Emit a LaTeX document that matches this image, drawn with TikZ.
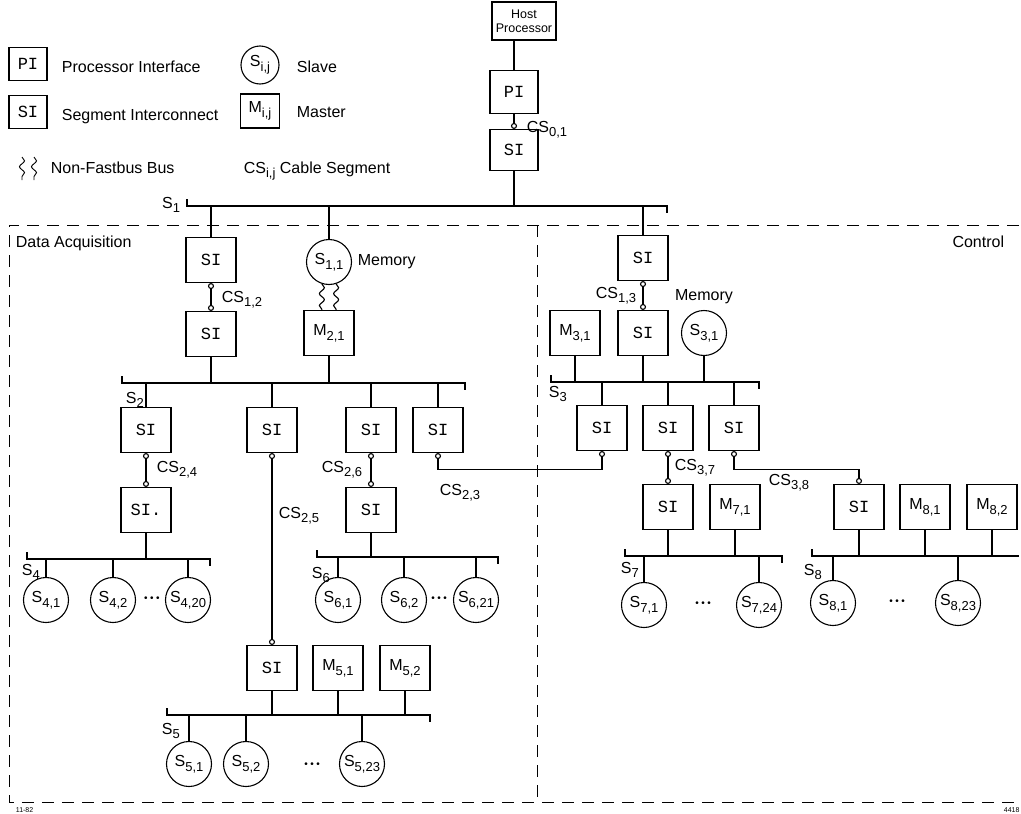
\documentclass[tikz,border=0pt]{standalone}
\usepackage{fontspec}
\setmainfont{Liberation Sans}
\setmonofont{Liberation Mono}
\usetikzlibrary{arrows.meta,decorations.pathmorphing}
\newcommand\lowidx[1]{\raisebox{-0.55ex}{\fontsize{13}{13}\selectfont #1}}
\newcommand\moredots{{\fontsize{10}{10}\selectfont\textbullet\kern2.5pt\textbullet\kern2.5pt\textbullet}}

\begin{document}
\begin{tikzpicture}[x=1pt, y=-1pt, line width=1.1pt,
    font=\fontsize{16}{19}\selectfont,
    unitbox/.style={draw, minimum width=50pt, minimum height=45pt, inner sep=0pt},
    sibox/.style={unitbox, font=\fontsize{17}{19}\selectfont\ttfamily},
    slave/.style={draw, circle, minimum size=45pt, inner sep=0pt},
    cable/.style={{Circle[open,length=6pt]}-{Circle[open,length=6pt]}},
    wavy/.style={decorate, decoration={snake, amplitude=2.5pt, segment length=12pt}},
    dasharea/.style={line width=0.9pt, dash pattern=on 12pt off 8pt}]
    \useasboundingbox (0,0) rectangle (1021,814);

    % legend
    \node[sibox, minimum width=38pt, minimum height=33pt] (lgpi) at (28,64) {PI};
    \node[anchor=base west] (lgpit) at (58,72) {Processor Interface};
    \node[sibox, minimum width=38pt, minimum height=33pt] (lgsi) at (28,112) {SI};
    \node[anchor=base west] (lgsit) at (58,120) {Segment Interconnect};
    \node[slave, minimum size=38pt] (lgs) at (260,65) {S\lowidx{i,j}};
    \node[anchor=base west] (lgst) at (293,72) {Slave};
    \node[unitbox, minimum width=39pt, minimum height=34pt] (lgm) at (260,111) {M\lowidx{i,j}};
    \node[anchor=base west] (lgmt) at (293,117) {Master};
    \draw[wavy, line width=0.9pt] (22,157) -- (22,180);
    \draw[wavy, line width=0.9pt] (34,157) -- (34,180);
    \node[anchor=base west] (lgnf) at (47,173) {Non-Fastbus Bus};
    \node[anchor=base west] (lgcs) at (240,173) {CS\lowidx{i,j} Cable Segment};

    % areas
    \draw[dasharea] (1019,225) -- (9,225) -- (9,802) -- (1019,802);
    \draw[dasharea] (537,225) -- (537,802);
    \node[anchor=base west] (daq) at (12,247) {Data Acquisition};
    \node[anchor=base east] (ctl) at (1008,247) {Control};
    \node[anchor=base west, font=\fontsize{7}{8}\selectfont] (date) at (12,812) {11-82};
    \node[anchor=base west, font=\fontsize{7}{8}\selectfont] (fig) at (1000,812) {4418};

    % segment buses
    \coordinate (bus1l) at (187,206); \coordinate (bus1r) at (667,206);
    \coordinate (bus2l) at (122,383); \coordinate (bus2r) at (465,383);
    \coordinate (bus3l) at (551,382); \coordinate (bus3r) at (759,382);
    \coordinate (bus4l) at (27,559);  \coordinate (bus4r) at (210,559);
    \coordinate (bus5l) at (167,715); \coordinate (bus5r) at (430,715);
    \coordinate (bus6l) at (317,557); \coordinate (bus6r) at (498,557);
    \coordinate (bus7l) at (625,556); \coordinate (bus7r) at (782,556);
    \coordinate (bus8l) at (812,556); \coordinate (bus8r) at (1019,556);
    \foreach \b in {1,...,7}
        \draw (bus\b l) ++(0,-7) -- (bus\b l) -- (bus\b r) -- ++(0,7);
    \draw (bus8l) ++(0,-7) -- (bus8l) -- (bus8r);
    \node[anchor=base east] (lbl1) at (184,208) {S\lowidx{1}};
    \node[anchor=base west] (lbl2) at (122,403) {S\lowidx{2}};
    \node[anchor=base west] (lbl3) at (545,397) {S\lowidx{3}};
    \node[anchor=base west] (lbl4) at (18,575) {S\lowidx{4}};
    \node[anchor=base west] (lbl5) at (158,734) {S\lowidx{5}};
    \node[anchor=base west] (lbl6) at (308,578) {S\lowidx{6}};
    \node[anchor=base west] (lbl7) at (617,573) {S\lowidx{7}};
    \node[anchor=base west] (lbl8) at (800,575) {S\lowidx{8}};

    % host
    \node[draw, minimum width=64pt, minimum height=38pt, inner sep=0pt, align=center,
        font=\fontsize{12.5}{14}\selectfont] (host) at (524,21) {Host\\Processor};
    \node[sibox, minimum width=48pt, minimum height=43pt] (pi0) at (514,92) {PI};
    \node[sibox, minimum width=48pt, minimum height=41pt] (si0) at (514,150) {SI};
    \draw (pi0.north) -- (pi0.north |- host.south);
    \draw[-{Circle[open,length=6pt]}] (pi0.south) -- (si0.north);
    \node[anchor=base west] (cs01) at (523,132) {CS\lowidx{0,1}};
    \draw (si0.south) -- (si0.south |- bus1l);

    % data acquisition
    \node[sibox] (si1a) at (211,260) {SI};
    \node[slave] (s11) at (329,262) {S\lowidx{1,1}};
    \node[anchor=west] (mem1) at (354,262) {Memory};
    \node[sibox] (si2in) at (211,334) {SI};
    \node[unitbox] (m21) at (329,333) {M\lowidx{2,1}};
    \draw (si1a.north) -- (si1a.north |- bus1l);
    \draw (s11.north) -- (s11.north |- bus1l);
    \draw[cable] (si1a.south) -- (si2in.north);
    \node[anchor=base west] (cs12) at (218,302) {CS\lowidx{1,2}};
    \draw[wavy] (s11.252) -- (s11.252 |- m21.north);
    \draw[wavy] (s11.288) -- (s11.288 |- m21.north);
    \draw (si2in.south) -- (si2in.south |- bus2l);
    \draw (m21.south) -- (m21.south |- bus2l);

    \node[sibox] (si2a) at (146,430) {SI};
    \node[sibox] (si2b) at (272,430) {SI};
    \node[sibox] (si2c) at (371,430) {SI};
    \node[sibox] (si2d) at (438,430) {SI};
    \foreach \n in {si2a,si2b,si2c,si2d}
        \draw (\n.north) -- (\n.north |- bus2l);

    \node[sibox] (si4in) at (146,510) {SI.};
    \draw[cable] (si2a.south) -- (si4in.north);
    \node[anchor=base west] (cs24) at (153,472) {CS\lowidx{2,4}};
    \draw (si4in.south) -- (si4in.south |- bus4l);
    \node[slave] (s41) at (46,600) {S\lowidx{4,1}};
    \node[slave] (s42) at (113,600) {S\lowidx{4,2}};
    \node[slave] (s420) at (188,600) {S\lowidx{4,20}};
    \node (dots4) at (152,599) {\moredots};
    \foreach \n in {s41,s42,s420}
        \draw (\n.north) -- (\n.north |- bus4l);

    \node[sibox] (si5in) at (272,668) {SI};
    \node[unitbox] (m51) at (338,668) {M\lowidx{5,1}};
    \node[unitbox] (m52) at (405,668) {M\lowidx{5,2}};
    \draw[cable] (si2b.south) -- (si5in.north);
    \node[anchor=base west] (cs25) at (275,518) {CS\lowidx{2,5}};
    \foreach \n in {si5in,m51,m52}
        \draw (\n.south) -- (\n.south |- bus5l);
    \node[slave] (s51) at (189,764) {S\lowidx{5,1}};
    \node[slave] (s52) at (246,764) {S\lowidx{5,2}};
    \node[slave] (s523) at (362,764) {S\lowidx{5,23}};
    \node (dots5) at (312,765) {\moredots};
    \foreach \n in {s51,s52,s523}
        \draw (\n.north) -- (\n.north |- bus5l);

    \node[sibox] (si6in) at (371,510) {SI};
    \draw[cable] (si2c.south) -- (si6in.north);
    \node[anchor=base east] (cs26) at (366,472) {CS\lowidx{2,6}};
    \draw (si6in.south) -- (si6in.south |- bus6l);
    \node[slave] (s61) at (338,600) {S\lowidx{6,1}};
    \node[slave] (s62) at (404,600) {S\lowidx{6,2}};
    \node[slave] (s621) at (476,600) {S\lowidx{6,21}};
    \node (dots6) at (439,599) {\moredots};
    \foreach \n in {s61,s62,s621}
        \draw (\n.north) -- (\n.north |- bus6l);

    % control
    \node[sibox] (si1c) at (643,258) {SI};
    \draw (si1c.north) -- (si1c.north |- bus1l);
    \node[unitbox] (m31) at (575,333) {M\lowidx{3,1}};
    \node[sibox] (si3in) at (643,333) {SI};
    \node[slave] (s31) at (704,333) {S\lowidx{3,1}};
    \node[anchor=south] (mem3) at (704,308) {Memory};
    \draw[cable] (si1c.south) -- (si3in.north);
    \node[anchor=base east] (cs13) at (640,298) {CS\lowidx{1,3}};
    \foreach \n in {m31,si3in,s31}
        \draw (\n.south) -- (\n.south |- bus3l);

    \node[sibox] (si3a) at (602,428) {SI};
    \node[sibox] (si3b) at (668,428) {SI};
    \node[sibox] (si3c) at (734,428) {SI};
    \foreach \n in {si3a,si3b,si3c}
        \draw (\n.north) -- (\n.north |- bus3l);
    \draw[cable] (si2d.south) -- ++(0,16) -| (si3a.south);
    \node[anchor=base west] (cs23) at (436,495) {CS\lowidx{2,3}};

    \node[sibox] (si7in) at (668,507) {SI};
    \node[unitbox] (m71) at (735,507) {M\lowidx{7,1}};
    \draw[cable] (si3b.south) -- (si7in.north);
    \node[anchor=base west] (cs37) at (671,470) {CS\lowidx{3,7}};
    \foreach \n in {si7in,m71}
        \draw (\n.south) -- (\n.south |- bus7l);
    \node[slave] (s71) at (644,605) {S\lowidx{7,1}};
    \node[slave] (s724) at (759,605) {S\lowidx{7,24}};
    \node (dots7) at (703,604) {\moredots};
    \foreach \n in {s71,s724}
        \draw (\n.north) -- (\n.north |- bus7l);

    \node[sibox] (si8in) at (859,507) {SI};
    \node[unitbox] (m81) at (925,507) {M\lowidx{8,1}};
    \node[unitbox] (m82) at (992,507) {M\lowidx{8,2}};
    \draw[cable] (si3c.south) -- ++(0,18) -| (si8in.north);
    \node[anchor=base west] (cs38) at (765,485) {CS\lowidx{3,8}};
    \foreach \n in {si8in,m81,m82}
        \draw (\n.south) -- (\n.south |- bus8l);
    \node[slave] (s81) at (833,603) {S\lowidx{8,1}};
    \node[slave] (s823) at (958,603) {S\lowidx{8,23}};
    \node (dots8) at (897,602) {\moredots};
    \foreach \n in {s81,s823}
        \draw (\n.north) -- (\n.north |- bus8l);
\end{tikzpicture}
\end{document}
